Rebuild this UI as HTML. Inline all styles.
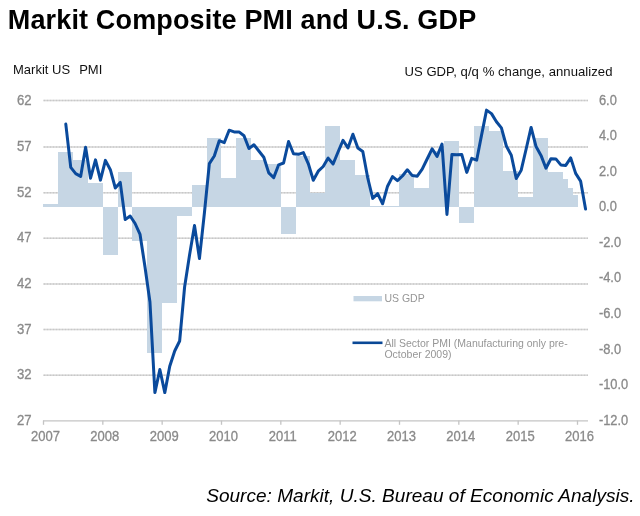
<!DOCTYPE html>
<html><head><meta charset="utf-8"><style>
html,body{margin:0;padding:0;background:#fff;width:640px;height:516px;overflow:hidden}
svg{display:block;font-family:"Liberation Sans",sans-serif;will-change:transform}
</style></head><body>
<svg width="640" height="516" viewBox="0 0 640 516">
<rect width="640" height="516" fill="#fff"/>
<text x="7.8" y="29" font-size="27" font-weight="bold" fill="#000" letter-spacing="0.15">Markit Composite PMI and U.S. GDP</text>
<text x="13" y="74" font-size="13" fill="#111">Markit US</text><text x="79.2" y="74" font-size="13" fill="#111">PMI</text>
<text x="612.5" y="75.6" font-size="13.1" fill="#111" text-anchor="end" letter-spacing="0.05">US GDP, q/q % change, annualized</text>
<g stroke="#e4e4e4" stroke-width="1.5" fill="none">
<line x1="43.5" y1="100.60" x2="588" y2="100.60"/><line x1="43.5" y1="147.00" x2="588" y2="147.00"/><line x1="43.5" y1="192.70" x2="588" y2="192.70"/><line x1="43.5" y1="238.30" x2="588" y2="238.30"/><line x1="43.5" y1="284.10" x2="588" y2="284.10"/><line x1="43.5" y1="329.60" x2="588" y2="329.60"/><line x1="43.5" y1="375.30" x2="588" y2="375.30"/>
</g>
<g stroke="#c8c8c8" stroke-width="1.5" stroke-dasharray="2,1" fill="none">
<line x1="43.5" y1="100.60" x2="588" y2="100.60"/><line x1="43.5" y1="147.00" x2="588" y2="147.00"/><line x1="43.5" y1="192.70" x2="588" y2="192.70"/><line x1="43.5" y1="238.30" x2="588" y2="238.30"/><line x1="43.5" y1="284.10" x2="588" y2="284.10"/><line x1="43.5" y1="329.60" x2="588" y2="329.60"/><line x1="43.5" y1="375.30" x2="588" y2="375.30"/>
</g>
<g fill="#c6d6e4" stroke="none" shape-rendering="crispEdges">
<rect x="43.44" y="204.00" width="14.835" height="3.40"/><rect x="58.28" y="152.20" width="14.835" height="55.20"/><rect x="73.11" y="159.60" width="14.835" height="47.80"/><rect x="87.95" y="182.60" width="14.835" height="24.80"/><rect x="102.78" y="207.40" width="14.835" height="47.10"/><rect x="117.62" y="172.20" width="14.835" height="35.20"/><rect x="132.45" y="207.40" width="14.835" height="33.90"/><rect x="147.29" y="207.40" width="14.835" height="145.40"/><rect x="162.12" y="207.40" width="14.835" height="95.50"/><rect x="176.96" y="207.40" width="14.835" height="8.40"/><rect x="191.79" y="185.00" width="14.835" height="22.40"/><rect x="206.63" y="138.20" width="14.835" height="69.20"/><rect x="221.47" y="177.60" width="14.835" height="29.80"/><rect x="236.30" y="138.40" width="14.835" height="69.00"/><rect x="251.14" y="159.50" width="14.835" height="47.90"/><rect x="265.97" y="163.60" width="14.835" height="43.80"/><rect x="280.81" y="207.40" width="14.835" height="26.70"/><rect x="295.64" y="155.50" width="14.835" height="51.90"/><rect x="310.48" y="193.20" width="14.835" height="14.20"/><rect x="325.31" y="125.80" width="14.835" height="81.60"/><rect x="340.15" y="159.80" width="14.835" height="47.60"/><rect x="354.99" y="174.60" width="14.835" height="32.80"/><rect x="369.82" y="205.80" width="14.835" height="1.60"/><rect x="384.66" y="205.80" width="14.835" height="1.60"/><rect x="399.49" y="173.50" width="14.835" height="33.90"/><rect x="414.33" y="188.10" width="14.835" height="19.30"/><rect x="429.16" y="151.00" width="14.835" height="56.40"/><rect x="444.00" y="141.00" width="14.835" height="66.40"/><rect x="458.83" y="207.40" width="14.835" height="15.60"/><rect x="473.67" y="126.20" width="14.835" height="81.20"/><rect x="488.50" y="131.40" width="14.835" height="76.00"/><rect x="503.34" y="170.60" width="14.835" height="36.80"/><rect x="518.18" y="197.20" width="14.835" height="10.20"/><rect x="533.01" y="138.30" width="14.835" height="69.10"/><rect x="547.85" y="171.90" width="14.835" height="35.50"/><rect x="562.68" y="179.10" width="4.945" height="28.30"/><rect x="567.63" y="188.40" width="4.945" height="19.00"/><rect x="572.57" y="195.10" width="4.945" height="12.30"/>
</g>
<g stroke="#c4c4c4" stroke-width="1.3" fill="none">
<line x1="43" y1="420.9" x2="588" y2="420.9"/>
<line x1="43.50" y1="420.5" x2="43.50" y2="424.8"/><line x1="102.83" y1="420.5" x2="102.83" y2="424.8"/><line x1="162.17" y1="420.5" x2="162.17" y2="424.8"/><line x1="221.50" y1="420.5" x2="221.50" y2="424.8"/><line x1="280.83" y1="420.5" x2="280.83" y2="424.8"/><line x1="340.16" y1="420.5" x2="340.16" y2="424.8"/><line x1="399.50" y1="420.5" x2="399.50" y2="424.8"/><line x1="458.83" y1="420.5" x2="458.83" y2="424.8"/><line x1="518.16" y1="420.5" x2="518.16" y2="424.8"/><line x1="577.50" y1="420.5" x2="577.50" y2="424.8"/>
</g>
<g font-size="14" fill="#8a8a8a" stroke="#8a8a8a" stroke-width="0.3">
<text transform="translate(31.6,104.70) scale(0.94,1)" text-anchor="end">62</text><text transform="translate(31.6,151.10) scale(0.94,1)" text-anchor="end">57</text><text transform="translate(31.6,196.80) scale(0.94,1)" text-anchor="end">52</text><text transform="translate(31.6,242.40) scale(0.94,1)" text-anchor="end">47</text><text transform="translate(31.6,288.20) scale(0.94,1)" text-anchor="end">42</text><text transform="translate(31.6,333.70) scale(0.94,1)" text-anchor="end">37</text><text transform="translate(31.6,379.40) scale(0.94,1)" text-anchor="end">32</text><text transform="translate(31.6,425.00) scale(0.94,1)" text-anchor="end">27</text>
<text transform="translate(598.9,104.50) scale(0.92,1)">6.0</text><text transform="translate(598.9,140.09) scale(0.92,1)">4.0</text><text transform="translate(598.9,175.68) scale(0.92,1)">2.0</text><text transform="translate(598.9,211.27) scale(0.92,1)">0.0</text><text transform="translate(598.9,246.86) scale(0.92,1)">-2.0</text><text transform="translate(598.9,282.44) scale(0.92,1)">-4.0</text><text transform="translate(598.9,318.03) scale(0.92,1)">-6.0</text><text transform="translate(598.9,353.62) scale(0.92,1)">-8.0</text><text transform="translate(598.9,389.21) scale(0.92,1)">-10.0</text><text transform="translate(598.9,424.80) scale(0.92,1)">-12.0</text>
<text transform="translate(45.50,441) scale(0.93,1)" text-anchor="middle">2007</text><text transform="translate(104.83,441) scale(0.93,1)" text-anchor="middle">2008</text><text transform="translate(164.17,441) scale(0.93,1)" text-anchor="middle">2009</text><text transform="translate(223.50,441) scale(0.93,1)" text-anchor="middle">2010</text><text transform="translate(282.83,441) scale(0.93,1)" text-anchor="middle">2011</text><text transform="translate(342.16,441) scale(0.93,1)" text-anchor="middle">2012</text><text transform="translate(401.50,441) scale(0.93,1)" text-anchor="middle">2013</text><text transform="translate(460.83,441) scale(0.93,1)" text-anchor="middle">2014</text><text transform="translate(520.16,441) scale(0.93,1)" text-anchor="middle">2015</text><text transform="translate(579.50,441) scale(0.93,1)" text-anchor="middle">2016</text>
</g>
<rect x="353.5" y="296" width="28.5" height="5.3" fill="#c6d6e4"/>
<text x="384.4" y="301.5" font-size="10.5" fill="#969696">US GDP</text>
<line x1="352.5" y1="342.8" x2="382.5" y2="342.8" stroke="#0a4896" stroke-width="2.6"/>
<text x="384.4" y="346.5" font-size="10.5" fill="#969696">All Sector PMI (Manufacturing only pre-</text>
<text x="384.4" y="358.1" font-size="10.5" fill="#969696">October 2009)</text>
<polyline points="65.80,124.10 70.75,167.40 75.70,173.60 80.65,176.40 85.60,147.20 90.55,178.20 95.50,159.90 100.45,180.10 105.40,160.40 110.35,169.70 115.30,188.00 120.25,182.40 125.20,219.60 130.15,216.00 135.10,223.50 140.05,234.40 145.00,267.00 149.95,302.00 154.90,392.60 159.85,369.50 164.80,392.60 169.75,366.30 174.70,351.00 179.65,341.00 184.60,287.00 189.55,255.00 194.50,225.50 199.45,258.50 204.40,213.00 209.35,163.60 214.30,156.00 219.25,140.70 224.20,142.70 229.15,130.20 234.10,131.90 239.05,131.90 244.00,135.70 248.95,148.50 253.90,144.80 258.85,151.00 263.80,157.20 268.75,172.90 273.70,177.60 278.65,164.80 283.60,163.00 288.55,141.50 293.50,153.70 298.45,154.30 303.40,152.60 308.35,163.80 313.30,180.30 318.25,171.20 323.20,166.50 328.15,158.10 333.10,164.00 338.05,152.00 343.00,140.30 347.95,147.90 352.90,134.20 357.85,148.00 362.80,151.50 367.75,178.00 372.70,198.40 377.65,193.60 382.60,203.80 387.55,186.20 392.50,176.60 397.45,180.70 402.40,176.00 407.35,169.80 412.30,175.60 417.25,176.20 422.20,169.20 427.15,159.00 432.10,148.80 437.05,156.40 442.00,144.10 446.95,214.50 451.90,154.50 456.85,154.70 461.80,154.60 466.75,172.40 471.70,158.40 476.65,160.20 481.60,134.90 486.55,110.10 491.50,113.60 496.45,121.80 501.40,127.90 506.35,146.00 511.30,155.30 516.25,178.50 521.20,170.20 526.15,149.00 531.10,127.40 536.05,146.60 541.00,155.40 545.95,168.20 550.90,158.70 555.85,158.90 560.80,164.90 565.75,165.40 570.70,157.90 575.65,173.40 580.60,181.10 585.55,209.00" fill="none" stroke="#0a4a9c" stroke-width="3" stroke-linejoin="round" stroke-linecap="round"/>
<text x="206.2" y="502" font-size="19" font-style="italic" fill="#000" letter-spacing="0.03">Source: Markit, U.S. Bureau of Economic Analysis.</text>
</svg>
</body></html>
